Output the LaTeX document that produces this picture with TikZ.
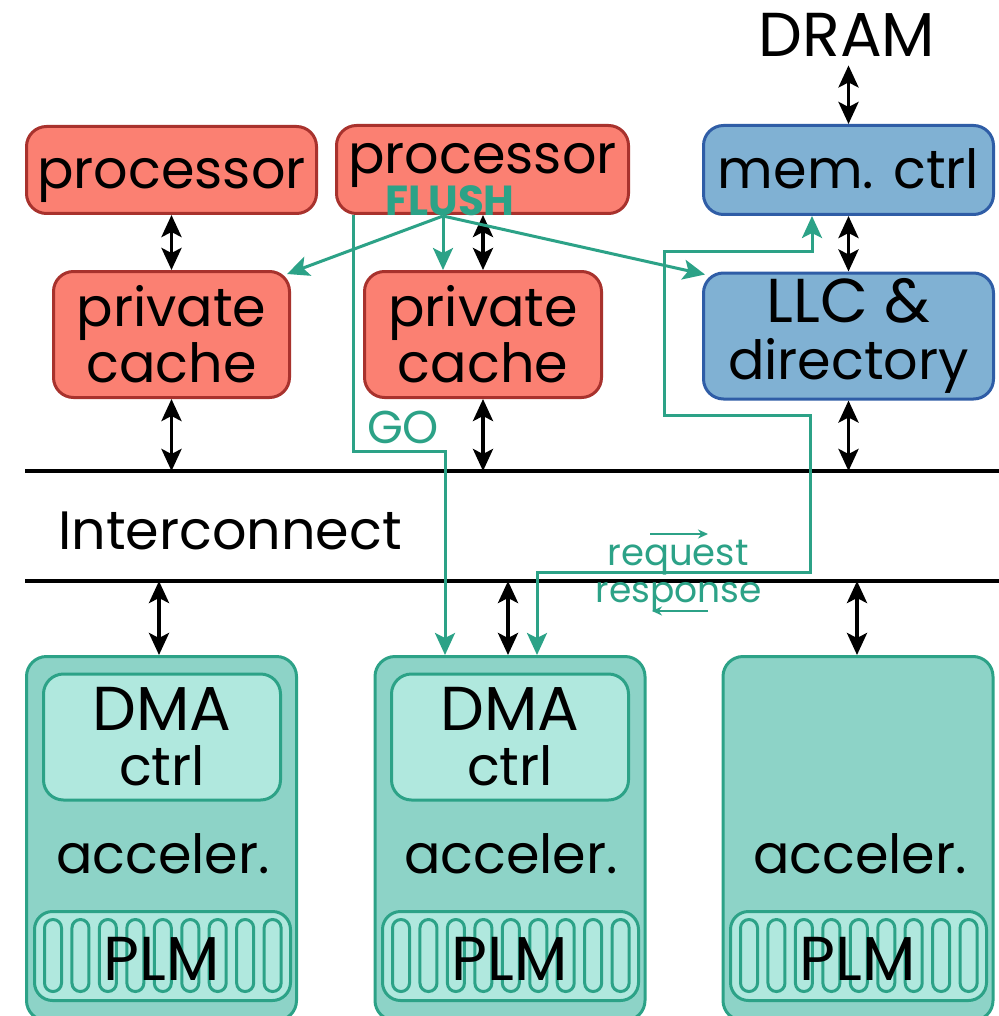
\documentclass[tikz,border=0pt]{standalone}
\usepackage{fontspec}
\setmainfont{Poppins}
\usetikzlibrary{arrows.meta}
\definecolor{salfill}{HTML}{FB8072}
\definecolor{saldraw}{HTML}{A8322D}
\definecolor{bluefill}{HTML}{80B1D3}
\definecolor{bluedraw}{HTML}{2F5DA6}
\definecolor{tealline}{HTML}{2CA287}
\definecolor{accfill}{HTML}{8DD3C7}
\definecolor{dmafill}{HTML}{B0E8DE}
\newcommand{\capsz}[1]{{\fontsize{31}{24}\selectfont #1}}
\tikzset{
  bigfont/.style={font=\fontsize{27}{24}\selectfont},
  box/.style={line width=1.5pt, rounded corners=10pt, inner sep=0pt, align=center, bigfont},
  cpubox/.style={box, draw=saldraw, fill=salfill},
  membox/.style={box, draw=bluedraw, fill=bluefill},
  accbox/.style={box, draw=tealline, fill=accfill},
  dmabox/.style={box, draw=tealline, fill=dmafill},
  oneline/.style={text height=25pt, text depth=6pt},
  lbl/.style={inner sep=0pt, bigfont},
  glbl/.style={inner sep=0pt, text=tealline},
  bus/.style={line width=2pt},
  biarrow/.style={line width=1.9pt, {Stealth[length=11pt,width=10pt,inset=2.5pt]}-{Stealth[length=11pt,width=10pt,inset=2.5pt]}},
  garrow/.style={draw=tealline, line width=1.5pt, -{Stealth[length=11pt,width=10pt,inset=2.5pt]}},
  gbiarrow/.style={draw=tealline, line width=1.5pt, {Stealth[length=11pt,width=10pt,inset=2.5pt]}-{Stealth[length=11pt,width=10pt,inset=2.5pt]}},
  thinarrow/.style={draw=tealline, line width=0.8pt, -{Stealth[length=5pt,width=4.5pt]}},
  plmbox/.style={draw=tealline, fill=dmafill, line width=1.5pt, rounded corners=9pt},
  plmcell/.style={draw=tealline, line width=1.5pt, rounded corners=4.2pt},
}
\begin{document}
\begin{tikzpicture}[x=0.5pt,y=-0.5pt]
\useasboundingbox[fill=white] (0,0) rectangle (999,1016);

% top row
\node[cpubox, oneline, minimum width=145pt, minimum height=43.5pt] (proc1) at (171.5,170) {processor};
\node[cpubox, text height=21pt, text depth=17pt, minimum width=146pt, minimum height=44pt] (proc2) at (482.5,169.5) {processor};
\node[membox, oneline, minimum width=145pt, minimum height=44.5pt] (mem) at (848.5,170) {mem. ctrl};
\node[lbl, anchor=base, font=\fontsize{31}{31}\selectfont] (dram) at (847,57) {DRAM};

% second row
\node[cpubox, minimum width=118pt, minimum height=63pt, font=\fontsize{27}{24.5}\selectfont] (pc1) at (171.5,334.5) {private\\cache};
\node[cpubox, minimum width=118.5pt, minimum height=63pt, font=\fontsize{27}{24.5}\selectfont] (pc2) at (483,334.5) {private\\cache};
\node[membox, minimum width=145pt, minimum height=63pt, font=\fontsize{27}{28.5}\selectfont] (llc) at (848.5,336) {\capsz{LLC \&}\\directory};

% interconnect
\coordinate (busAL) at (25,471);
\coordinate (busAR) at (999,471);
\coordinate (busBL) at (25,581);
\coordinate (busBR) at (999,581);
\draw[bus] (busAL) -- (busAR);
\draw[bus] (busBL) -- (busBR);
\node[lbl, anchor=base west] (ic) at (58,549) {Interconnect};

% accelerators
\node[accbox, minimum width=135pt, minimum height=182pt] (acc1) at (161.5,838.5) {};
\node[accbox, minimum width=135pt, minimum height=182pt] (acc2) at (510,838.5) {};
\node[accbox, minimum width=135pt, minimum height=182pt] (acc3) at (858,838.5) {};
\node[dmabox, minimum width=118.5pt, minimum height=63pt, font=\fontsize{27}{27.5}\selectfont] (dma1) at (162,737) {\capsz{DMA}\\ctrl};
\node[dmabox, minimum width=118.5pt, minimum height=63pt, font=\fontsize{27}{27.5}\selectfont] (dma2) at (510,737) {\capsz{DMA}\\ctrl};
\node[lbl, anchor=base] (acl1) at (163,873) {acceler.};
\node[lbl, anchor=base] (acl2) at (511,873) {acceler.};
\node[lbl, anchor=base] (acl3) at (860,873) {acceler.};

\foreach \ax/\n in {25/1,373/2,721/3}{
  \draw[plmbox] ({\ax+9.5},911.5) rectangle ({\ax+265.5},1000.5);
  \foreach \i in {0,...,8}{
    \draw[plmcell] ({\ax+28+27.45*\i-8.5},919.5) rectangle ({\ax+28+27.45*\i+8.5},991.5);
  }
  \node[lbl, anchor=base, font=\fontsize{31}{31}\selectfont] (plm\n) at ({\ax+137},980) {PLM};
}

% black connectors
\draw[biarrow] (mem.north |- dram.south) ++(0,8) -- (mem.north);
\draw[biarrow] (proc1) -- (pc1);
\draw[biarrow] (pc2.north |- proc2.south) -- (pc2.north);
\draw[biarrow] (mem) -- (llc);
\draw[biarrow] (pc1.south) -- (pc1.south |- busAL);
\draw[biarrow] (pc2.south) -- (pc2.south |- busAL);
\draw[biarrow] (llc.south) -- (llc.south |- busAL);
\draw[biarrow] ([xshift=-1.25pt]acc1.north |- busBL) -- ([xshift=-1.25pt]acc1.north);
\draw[biarrow] ([xshift=-1pt]acc2.north |- busBL) -- ([xshift=-1pt]acc2.north);
\draw[biarrow] ([xshift=-0.5pt]acc3.north |- busBL) -- ([xshift=-0.5pt]acc3.north);

% FLUSH
\coordinate (fl) at (443,216);
\draw[garrow] (fl) -- ([xshift=-2pt,yshift=-2pt]pc1.north east);
\draw[garrow] (fl) -- (fl |- pc2.north);
\draw[garrow] (fl) -- ([xshift=1.5pt,yshift=-1.5pt]llc.north west);
\node[glbl, anchor=base, font=\fontsize{21}{21}\selectfont\bfseries] (flush) at (450,215) {FLUSH};

% GO
\coordinate (go1) at (353,451);
\coordinate (go2) at (445,451);
\draw[garrow] (proc2.south -| go1) -- (go1) -- (go2) -- (acc2.north -| go2);
\node[glbl, anchor=base, font=\fontsize{23}{23}\selectfont] (go) at (403,443) {GO};

% request / response
\coordinate (r1) at (537,572);
\coordinate (r2) at (810,572);
\coordinate (r3) at (810,415);
\coordinate (r4) at (664,415);
\coordinate (r5) at (664,251);
\coordinate (r6) at (812,251);
\draw[gbiarrow] (acc2.north -| r1) -- (r1) -- (r2) -- (r3) -- (r4) -- (r5) -- (r6) -- (mem.south -| r6);
\node[glbl, anchor=base, font=\fontsize{18.5}{18.5}\selectfont] (req) at (678,565) {request};
\node[glbl, anchor=base, font=\fontsize{18}{18}\selectfont] (resp) at (679,602) {response};
\coordinate (qa) at (650,534);
\coordinate (qb) at (708,534);
\coordinate (sa) at (708,611);
\coordinate (sb) at (652,611);
\draw[thinarrow] (qa) -- (qb);
\draw[thinarrow] (sa) -- (sb);
\end{tikzpicture}
\end{document}
